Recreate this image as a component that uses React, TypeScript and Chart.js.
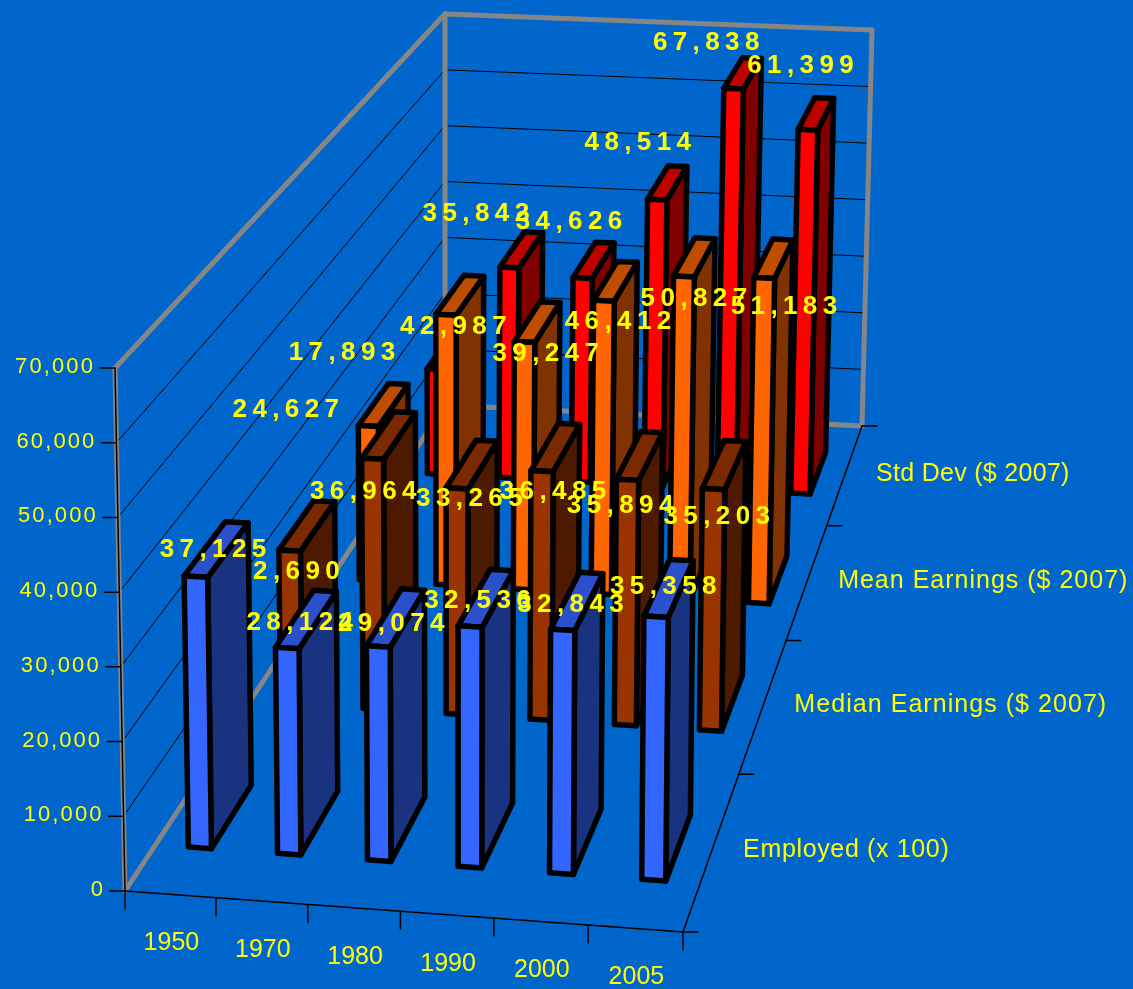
import React, { useEffect, useRef } from "react";
import { Chart, registerables } from "chart.js";

Chart.register(...registerables);

const years = ["1950", "1970", "1980", "1990", "2000", "2005"];
const employed = [37125, 28124, 29074, 32536, 32843, 35358];
const medianEarnings = [22690, 36964, 33265, 36485, 35894, 35203];
const meanEarnings = [24627, 42987, 39247, 46412, 50827, 51183];
const stdDev = [17893, 35842, 34626, 48514, 67838, 61399];

const FRONT_COLORS = ["#3366FF", "#993300", "#FF6600", "#FF0000"];
const TOP_COLORS = ["#2A50CC", "#7A2900", "#BF4D00", "#BF0000"];
const SIDE_COLORS = ["#1A3380", "#4D1A00", "#803300", "#800000"];

type Pt = [number, number];

// Corners of the plot box: floor and ceiling, front-left, front-right, back-right, back-left.
const FLOOR: Pt[] = [[125, 891], [683, 932], [862, 426], [445, 405]];
const CEILING: Pt[] = [[115, 368], [688, 396], [872, 30], [445, 14]];
const BAR_DEPTH = 0.42;

// Value labels sit a little off the top of their bar; nudges in pixels, per series then per year.
const LABEL_NUDGE: Pt[][] = [
  [[-1, 1], [-4, 4], [-2, 6], [-6, 3], [-4, 4], [-3, -1]],
  [[-18, 46], [-23, 57], [0, 35], [0, 45], [-17, 50], [-5, 52]],
  [[-95, 5], [-4, 32], [11, 32], [5, 41], [2, 42], [13, 48]],
  [[-105, 3], [-43, -36], [-22, -38], [-27, -40], [-34, -30], [-13, -48]],
];
// Tracking of the depth-axis captions, in the same series order.
const SERIES_TRACKING = [0.65, 1.05, 1.0, 0.3];

function squareToQuad(q: Pt[]) {
  const [[x0, y0], [x1, y1], [x2, y2], [x3, y3]] = q;
  const dx1 = x1 - x2, dx2 = x3 - x2, sx = x0 - x1 + x2 - x3;
  const dy1 = y1 - y2, dy2 = y3 - y2, sy = y0 - y1 + y2 - y3;
  const den = dx1 * dy2 - dx2 * dy1;
  const g = (sx * dy2 - dx2 * sy) / den;
  const h = (dx1 * sy - sx * dy1) / den;
  const a = x1 - x0 + g * x1, b = x3 - x0 + h * x3;
  const d = y1 - y0 + g * y1, e = y3 - y0 + h * y3;
  return (u: number, v: number): Pt => {
    const k = g * u + h * v + 1;
    return [(a * u + b * v + x0) / k, (d * u + e * v + y0) / k];
  };
}

const floorAt = squareToQuad(FLOOR);
const ceilingAt = squareToQuad(CEILING);

function project(u: number, v: number, w: number): Pt {
  const f = floorAt(u, v);
  const c = ceilingAt(u, v);
  return [f[0] + (c[0] - f[0]) * w, f[1] + (c[1] - f[1]) * w];
}

function line(ctx: CanvasRenderingContext2D, a: Pt, b: Pt) {
  ctx.beginPath();
  ctx.moveTo(a[0], a[1]);
  ctx.lineTo(b[0], b[1]);
  ctx.stroke();
}

function face(ctx: CanvasRenderingContext2D, pts: Pt[], fill: string) {
  ctx.beginPath();
  pts.forEach((p, i) => (i ? ctx.lineTo(p[0], p[1]) : ctx.moveTo(p[0], p[1])));
  ctx.closePath();
  ctx.fillStyle = fill;
  ctx.fill();
  ctx.stroke();
}

const box3d = {
  id: "box3d",
  beforeDatasetsDraw(chart: any) {
    const { ctx, scales } = chart;
    const { x, y } = scales;
    ctx.save();
    ctx.lineCap = "round";

    // grid lines on the two walls
    ctx.strokeStyle = "#000000";
    ctx.lineWidth = 1;
    y.ticks.forEach((t: any) => {
      if (t.value === y.min || t.value === y.max) return;
      const w = (y.bottom - y.getPixelForValue(t.value)) / y.height;
      line(ctx, project(0, 0, w), project(0, 1, w));
      line(ctx, project(0, 1, w), project(1, 1, w));
    });

    // wall outline
    ctx.strokeStyle = "#868686";
    ctx.lineWidth = 5;
    line(ctx, project(0, 0, 0), project(0, 1, 0));
    line(ctx, project(0, 1, 0), project(1, 1, 0));
    line(ctx, project(1, 1, 0), project(1, 1, 1));
    line(ctx, project(1, 1, 1), project(0, 1, 1));
    line(ctx, project(0, 1, 1), project(0, 0, 1));
    line(ctx, project(0, 0, 1), project(0, 0, 0));
    line(ctx, project(0, 1, 0), project(0, 1, 1));

    // axes and tick marks
    ctx.strokeStyle = "#000000";
    ctx.lineWidth = 1.5;
    line(ctx, project(0, 0, 0), project(1, 0, 0));
    line(ctx, project(1, 0, 0), project(1, 1, 0));
    line(ctx, project(0, 0, 0), project(0, 0, 1));
    ctx.fillStyle = "#FFFF00";
    ctx.textBaseline = "middle";

    ctx.font = '22px "Liberation Sans"';
    ctx.letterSpacing = "2.1px";
    ctx.textAlign = "right";
    y.ticks.forEach((t: any) => {
      const w = (y.bottom - y.getPixelForValue(t.value)) / y.height;
      const p = project(0, 0, w);
      line(ctx, p, [p[0] - 15, p[1]]);
      ctx.fillText(t.label, p[0] - 20, p[1] - 1);
    });

    ctx.font = '25px "Liberation Sans"';
    ctx.letterSpacing = "0px";
    ctx.textAlign = "center";
    const n = x.ticks.length;
    for (let i = 0; i <= n; i++) {
      const p = project(i / n, 0, 0);
      line(ctx, p, [p[0], p[1] + 18]);
    }
    x.ticks.forEach((t: any, i: number) => {
      const p = project((x.getPixelForValue(i) - x.left) / x.width, 0, 0);
      ctx.fillText(t.label, p[0] + 1, p[1] + 49);
    });

    ctx.textAlign = "left";
    const rows = chart.data.datasets.length;
    for (let r = 0; r <= rows; r++) {
      const p = project(1, r / rows, 0);
      line(ctx, p, [p[0] + 15, p[1]]);
    }
    chart.data.datasets.forEach((ds: any, r: number) => {
      const p = project(1, (r + 0.5) / rows, 0);
      ctx.letterSpacing = `${SERIES_TRACKING[r]}px`;
      ctx.fillText(ds.label, p[0] + 31, p[1]);
    });
    ctx.restore();
  },
  beforeDatasetDraw(chart: any, args: any) {
    const { ctx, scales } = chart;
    const { x, y } = scales;
    const r = args.index;
    const rows = chart.data.datasets.length;
    const v0 = (r + 0.5 - BAR_DEPTH / 2) / rows;
    const v1 = (r + 0.5 + BAR_DEPTH / 2) / rows;
    ctx.save();
    ctx.strokeStyle = "#000000";
    ctx.lineWidth = 5.5;
    ctx.lineJoin = "round";
    args.meta.data.forEach((bar: any) => {
      const u0 = (bar.x - bar.width / 2 - x.left) / x.width;
      const u1 = (bar.x + bar.width / 2 - x.left) / x.width;
      const w = (y.bottom - bar.y) / y.height;
      face(ctx, [project(u1, v0, 0), project(u1, v1, 0), project(u1, v1, w), project(u1, v0, w)], SIDE_COLORS[r]);
      face(ctx, [project(u0, v0, w), project(u1, v0, w), project(u1, v1, w), project(u0, v1, w)], TOP_COLORS[r]);
      face(ctx, [project(u0, v0, 0), project(u1, v0, 0), project(u1, v0, w), project(u0, v0, w)], FRONT_COLORS[r]);
    });
    // Labels go down with their own series, so nearer bars can cover them.
    ctx.fillStyle = "#FFFF00";
    ctx.font = 'bold 26px "Liberation Sans"';
    ctx.letterSpacing = "5.4px";
    ctx.textAlign = "center";
    ctx.textBaseline = "middle";
    args.meta.data.forEach((bar: any, i: number) => {
      const u = (bar.x - x.left) / x.width;
      const w = (y.bottom - bar.y) / y.height;
      const p = project(u, (v0 + v1) / 2, w);
      const [dx, dy] = LABEL_NUDGE[r][i];
      ctx.fillText(chart.data.datasets[r].data[i].toLocaleString("en-US"), p[0] + dx, p[1] + dy);
    });
    ctx.restore();
    return false;
  },
};

export default function App() {
  const canvasRef = useRef<HTMLCanvasElement>(null);
  useEffect(() => {
    document.body.style.margin = "0";
    document.body.style.background = "#0066CC";
    const chart = new Chart(canvasRef.current!, {
      type: "bar",
      data: {
        labels: years,
        datasets: [
          { label: "Employed (x 100)", data: employed },
          { label: "Median Earnings ($ 2007)", data: medianEarnings },
          { label: "Mean Earnings ($ 2007)", data: meanEarnings },
          { label: "Std Dev ($ 2007)", data: stdDev },
        ],
      },
      options: {
        responsive: false,
        animation: false,
        datasets: { bar: { grouped: false, barPercentage: 0.26, categoryPercentage: 1 } },
        plugins: { legend: { display: false }, tooltip: { enabled: false } },
        scales: {
          x: { display: false },
          y: { display: false, min: 0, max: 70000, ticks: { stepSize: 10000 } },
        },
      },
      plugins: [box3d],
    } as any);
    return () => chart.destroy();
  }, []);
  return <canvas ref={canvasRef} width={1133} height={989} style={{ display: "block", background: "#0066CC" }} />;
}
